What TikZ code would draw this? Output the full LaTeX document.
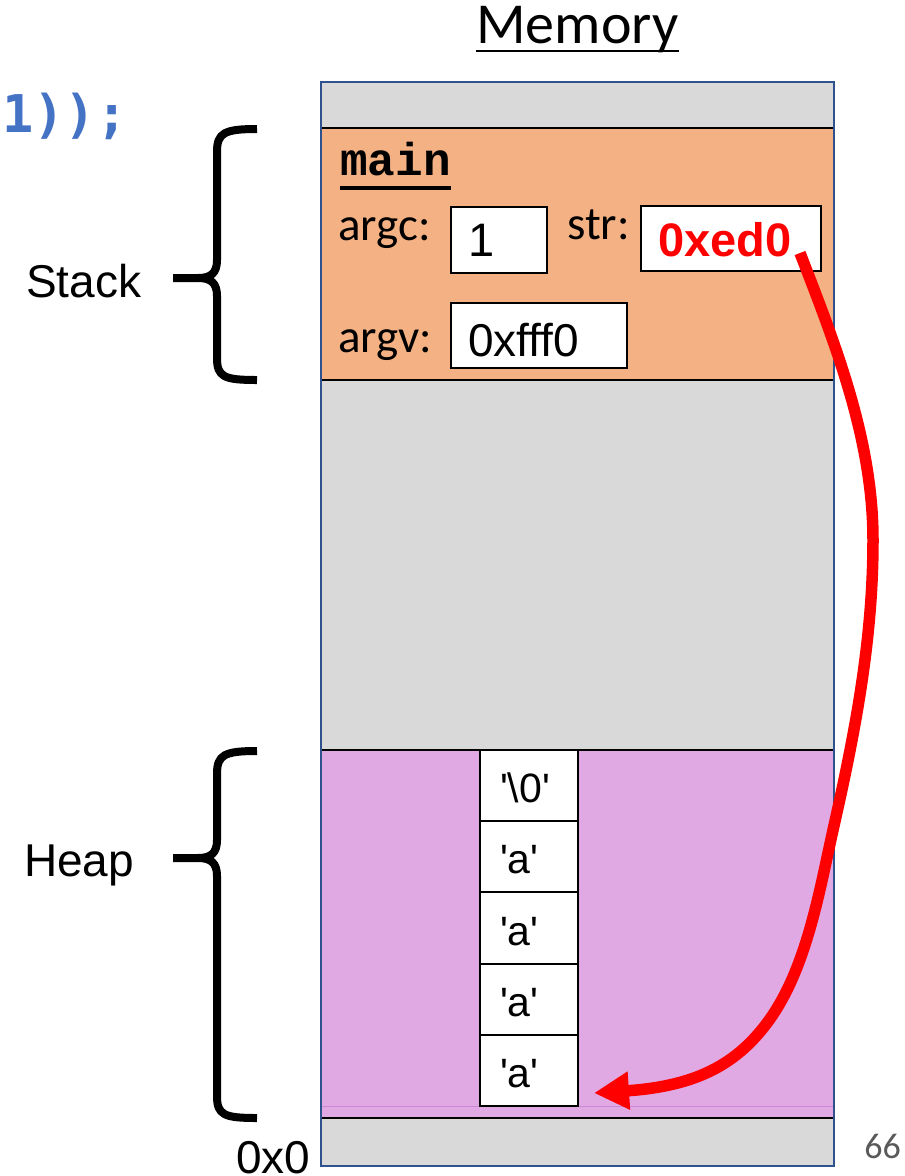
\documentclass[tikz,border=0pt]{standalone}
\usepackage{fontspec}
\setmainfont{Liberation Sans}
\newfontfamily\calibri{Carlito}
\newfontfamily\cour{Liberation Mono}
\newfontfamily\dmono{DejaVu Sans Mono}
\usetikzlibrary{arrows.meta}
\definecolor{memgray}{HTML}{D9D9D9}
\definecolor{stackor}{HTML}{F4B183}
\definecolor{heappk}{HTML}{E1A9E3}
\definecolor{heapln}{HTML}{CC88D4}
\definecolor{memblue}{HTML}{2F528F}
\definecolor{codeblue}{HTML}{4472C4}
\definecolor{pgnum}{HTML}{595959}
\newcommand\fsz[1]{\fontsize{#1pt}{#1pt}\selectfont}
\begin{document}
\begin{tikzpicture}[x=1pt,y=-1pt,
  txt/.style={inner sep=0pt, anchor=base west},
  valbox/.style={draw=black, line width=2pt, fill=white, inner ysep=0pt, text depth=0pt, align=left, anchor=center},
  cell/.style={valbox, minimum height=71.2pt, text width=58pt, inner xsep=20pt, text height=34pt, font=\fsz{41}},
  sep/.style={draw=black, line width=2pt},
  bracestyle/.style={draw=black, line width=8pt, line join=round},
  ptr/.style={draw=red, line width=11.5pt, -{Triangle[length=35pt,width=36pt]}}]
\useasboundingbox (0,0) rectangle (905,1176);
% memory regions
\fill[memgray] (321,82) rectangle (834,1166);
\fill[stackor] (321,128) rectangle (834,380);
\fill[heappk] (321,750) rectangle (834,1118);
\draw[heapln, line width=1pt] (321,1106) -- (834,1106);
\draw[sep] (321,128) -- (834,128);
\draw[sep] (321,380) -- (834,380);
\draw[sep] (321,750) -- (834,750);
\draw[sep] (321,1118) -- (834,1118);
\draw[memblue, line width=2.5pt] (321,82) rectangle (834,1166);
% titles and labels
\node[txt, font=\calibri\fsz{58}] (memlbl) at (476,43) {Memory};
\draw[line width=2.5pt] ([yshift=-8pt]memlbl.base west) -- ([yshift=-8pt]memlbl.base east);
\node[txt, font=\dmono\bfseries\fsz{52}, text=codeblue] (code) at (2,132) {1));};
\node[txt, font=\fsz{46}] (stacklbl) at (26,297) {Stack};
\node[txt, font=\fsz{46}] (heaplbl) at (24,876) {Heap};
\node[txt, font=\fsz{46}] (zero) at (236,1173) {0x0};
\node[inner sep=0pt, anchor=base east, font=\calibri\fsz{36}, text=pgnum] (pg) at (901,1158) {66};
% stack frame
\node[txt, font=\cour\bfseries\fsz{46}] (mainlbl) at (340,175) {main};
\draw[line width=4pt] ([yshift=-13pt]mainlbl.base west) -- ([yshift=-13pt]mainlbl.base east);
\node[txt, font=\calibri\fsz{47}] (argclbl) at (338,240) {argc:};
\node[txt, font=\calibri\fsz{47}] (strlbl) at (567,239) {str:};
\node[txt, font=\calibri\fsz{47}] (argvlbl) at (338,352) {argv:};
\node[valbox, minimum height=66pt, text width=62pt, inner xsep=17pt, text height=32pt, font=\fsz{47}] (argcv) at (499,240) {1};
\node[valbox, minimum height=65pt, text width=142pt, inner xsep=17pt, text height=41pt, font=\fsz{46}] (argvv) at (539,335.5) {0xfff0};
\node[valbox, minimum height=65pt, text width=146pt, inner xsep=17pt, text height=35pt, font=\bfseries\fsz{47}, text=red] (strv) at (731,238.5) {0xed0};
% heap cells
\node[cell] (c1) at (529,785.6) {\textquotesingle\textbackslash 0\textquotesingle};
\node[cell] (c2) at (529,856.8) {\textquotesingle a\textquotesingle};
\node[cell] (c3) at (529,928) {\textquotesingle a\textquotesingle};
\node[cell] (c4) at (529,999.2) {\textquotesingle a\textquotesingle};
\node[cell] (c5) at (529,1070.4) {\textquotesingle a\textquotesingle};
% braces
\draw[bracestyle] (257,129) .. controls (224,129) and (217,133) .. (217,152) -- (217,260) .. controls (217,273) and (211,278) .. (198,278) -- (173,278);
\draw[bracestyle] (198,278) .. controls (211,278) and (217,283) .. (217,296) -- (217,358) .. controls (217,377) and (224,380) .. (257,380);
\draw[bracestyle] (257,751) .. controls (224,751) and (217,755) .. (217,774) -- (217,840) .. controls (217,853) and (211,858) .. (198,858) -- (173,858);
\draw[bracestyle] (198,858) .. controls (211,858) and (217,863) .. (217,876) -- (217,1096) .. controls (217,1115) and (224,1118) .. (257,1118);
% pointer
\coordinate (as) at (800,253);
\coordinate (ae) at (594,1093);
\draw[ptr] (as) .. controls (836,346) and (873,440) .. (873,540) .. controls (873,640) and (855,733) .. (833,830) .. controls (819,893) and (806,971) .. (767,1023) .. controls (737,1063) and (698,1086) .. (ae);
\end{tikzpicture}
\end{document}
